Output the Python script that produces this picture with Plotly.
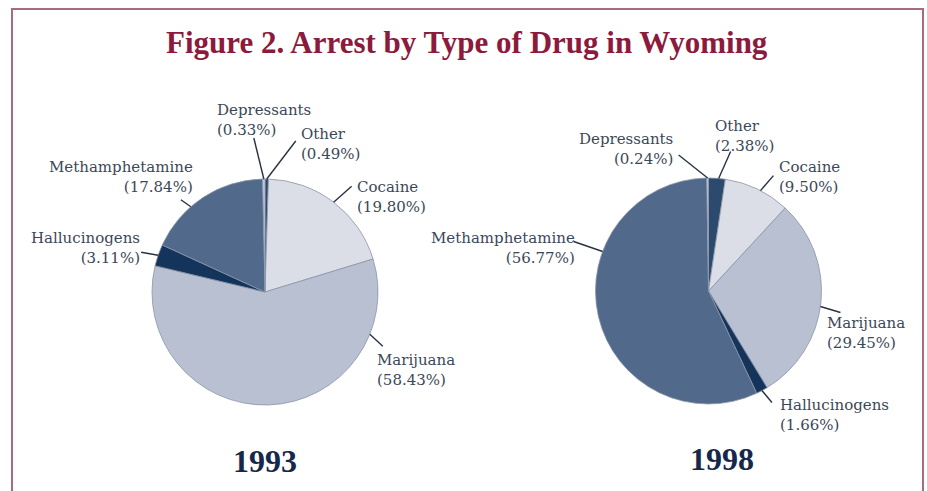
import math
import plotly.graph_objects as go

# ---- data ----
drug_types = ["Other", "Cocaine", "Marijuana", "Hallucinogens", "Methamphetamine", "Depressants"]
pct_1993 = [0.49, 19.80, 58.43, 3.11, 17.84, 0.33]
pct_1998 = [2.38, 9.50, 29.45, 1.66, 56.77, 0.24]
years = ["1993", "1998"]
title_text = "Figure 2. Arrest by Type of Drug in Wyoming"

# ---- styles ----
W, H = 927, 491
slice_colors = ["#2b4a6d", "#dcdee7", "#b9c0d1", "#15345b", "#51698b", "#c9d1de"]
label_color = "#3c4758"
label_font = "DejaVu Serif"

# pie geometry in pixels (center x, center y, radius)
pies = [(265, 292, 113), (708.5, 291, 113)]

# label layout per pie: (fraction within slice for leader tip, leader tail offset dx, dy,
#                        text anchor x px, text middle y px, side)
layouts = [
    {
        "Other": (0.5, 29, -38, 299, 144, "left"),
        "Cocaine": (0.5, 18, -16, 355, 197, "left"),
        "Marijuana": (0.185, 13, 12, 375, 370, "left"),
        "Hallucinogens": (0.5, -17, -3, 142, 248, "right"),
        "Methamphetamine": (0.38, -10, -7, 195, 177, "right"),
        "Depressants": (0.5, -10, -41, 215, 120, "left"),
    },
    {
        "Other": (0.6, 12, -27, 713, 136, "left"),
        "Cocaine": (0.55, 13, -15, 777, 177, "left"),
        "Marijuana": (0.52, 20, 6, 825, 333, "left"),
        "Hallucinogens": (0.5, 10, 12, 778, 415, "left"),
        "Methamphetamine": (0.664, -29, -10, 577, 248, "right"),
        "Depressants": (0.5, -29, -23, 675, 149, "right"),
    },
]
year_pos = [(265, 461), (722, 459)]


def X(px):
    return px / W


def Y(py):
    return 1 - py / H


fig = go.Figure()
shapes = []
annotations = []

for (cx, cy, r), values, lay, yr, (yx, yy) in zip(pies, [pct_1993, pct_1998], layouts, years, year_pos):
    fig.add_trace(go.Pie(
        labels=drug_types, values=values, sort=False, direction="clockwise", rotation=0,
        marker=dict(colors=slice_colors, line=dict(color="#8a94a8", width=0.8)),
        textinfo="none", hoverinfo="label+percent", showlegend=False,
        domain=dict(x=[X(cx - r), X(cx + r)], y=[Y(cy + r), Y(cy - r)]),
    ))
    total = sum(values)
    start = 0.0
    for name, v in zip(drug_types, values):
        span = 360.0 * v / total
        frac, dx, dy, tx, ty, side = lay[name]
        ang = math.radians(start + frac * span)
        tipx = cx + r * math.sin(ang)
        tipy = cy - r * math.cos(ang)
        shapes.append(dict(type="line", xref="paper", yref="paper",
                           x0=X(tipx), y0=Y(tipy), x1=X(tipx + dx), y1=Y(tipy + dy),
                           line=dict(color="#2a3240", width=1.4)))
        annotations.append(dict(
            x=X(tx), y=Y(ty), xref="paper", yref="paper",
            xanchor=side, yanchor="middle", align=side, showarrow=False,
            text=f"{name}<br>({v:.2f}%)",
            font=dict(family=label_font, size=15, color=label_color),
        ))
        start += span
    annotations.append(dict(
        x=X(yx), y=Y(yy), xref="paper", yref="paper", xanchor="center", yanchor="middle",
        showarrow=False, text=f"<b>{yr}</b>",
        font=dict(family="Liberation Serif", size=32, color="#16284a"),
    ))

annotations.append(dict(
    x=X(467), y=Y(42), xref="paper", yref="paper", xanchor="center", yanchor="middle",
    showarrow=False, text=f"<b>{title_text}</b>",
    font=dict(family="Liberation Serif", size=31, color="#8c1a3c"),
))

# frame border
shapes.append(dict(type="rect", xref="paper", yref="paper",
                   x0=X(12), x1=X(923), y0=Y(500), y1=Y(9),
                   line=dict(color="#a86a80", width=2)))

fig.update_layout(
    width=W, height=H, margin=dict(l=0, r=0, t=0, b=0),
    paper_bgcolor="white", plot_bgcolor="white",
    shapes=shapes, annotations=annotations,
)

fig.write_html("out.html", config={"displayModeBar": False},
               post_script="document.body.style.margin='0';")
